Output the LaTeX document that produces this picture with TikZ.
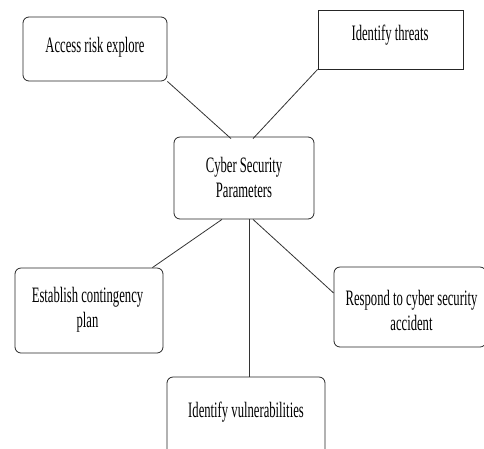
\documentclass[tikz,border=0pt]{standalone}
\usepackage{fontspec}
\setmainfont{Liberation Serif}[FakeStretch=0.575]
\newcommand\hstrut{\rule{0pt}{16pt}}
\begin{document}
\begin{tikzpicture}[x=1pt,y=-1pt,
  rbox/.style={draw=black!85,line width=0.8pt,rounded corners=6pt,minimum width=#1,inner sep=0pt},
  sbox/.style={draw=black!85,line width=0.8pt,minimum width=#1,inner sep=0pt},
  txt/.style={anchor=north,inner sep=0pt,align=center,font=\fontsize{22pt}{25pt}\selectfont},
  conn/.style={draw=black!80,line width=0.8pt}]
\useasboundingbox (0,0) rectangle (484,448);
\clip (0,0) rectangle (484,448);
% boxes
\node[rbox=144pt,minimum height=64pt] (a) at (95,49) {};
\node[sbox=145pt,minimum height=59pt] (t) at (390.5,39.5) {};
\node[rbox=140pt,minimum height=82pt] (c) at (244,178) {};
\node[rbox=148pt,minimum height=85pt] (e) at (89,310.5) {};
\node[rbox=152pt,minimum height=80pt] (r) at (410,307) {};
\node[rbox=158pt,minimum height=80pt] (v) at (246,417) {};
% texts
\node[txt] (at) at (95,36.5) {\hstrut Access risk explore};
\node[txt] (tt) at (390,24.7) {\hstrut Identify threats};
\node[txt] (ct) at (244,156.6) {\hstrut Cyber Security\\Parameters};
\node[txt] (et) at (87.5,286.7) {\hstrut Establish contingency\\plan};
\node[txt] (rt) at (411.5,289.5) {\hstrut Respond to cyber security\\accident};
\node[txt] (vt) at (246,401) {\hstrut Identify vulnerabilities};
% connectors
\draw[conn] (a.south east) -- ([xshift=-13pt,yshift=-2pt]c.north);
\draw[conn] (t.south west) -- ([xshift=9pt,yshift=-2pt]c.north);
\draw[conn] ([xshift=-11pt]e.north east) -- ([xshift=-22pt]c.south);
\draw[conn] ([xshift=5pt]c.south) -- ([xshift=5pt]c.south |- v.north);
\draw[conn] ([xshift=9pt]c.south) -- ([yshift=14pt]r.west);
\end{tikzpicture}
\end{document}
